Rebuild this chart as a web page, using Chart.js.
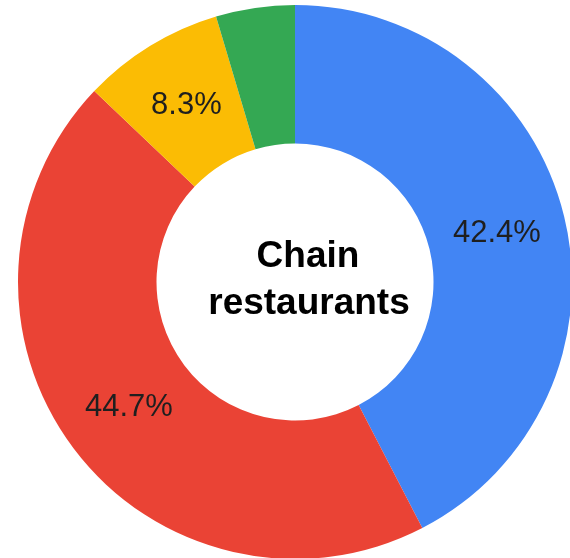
<!DOCTYPE html>
<html>
<head>
<meta charset="utf-8">
<script src="https://cdn.jsdelivr.net/npm/chart.js@4/dist/chart.umd.min.js"></script>
<style>
  html, body { margin: 0; padding: 0; background: #fff; }
  #wrap { width: 570px; height: 558px; }
</style>
</head>
<body>
<div id="wrap"><canvas id="ring" width="570" height="558"></canvas></div>
<script>
// share of each segment, clockwise from the top
const segments = ['Segment A', 'Segment B', 'Segment C', 'Segment D'];
const shares = [42.4, 44.7, 8.3, 4.6];
const sliceColors = ['#4285F4', '#EA4335', '#FBBC04', '#34A853'];
const centerLines = ['Chain', 'restaurants'];

// percentages written inside the slices (small ones are skipped)
const sliceLabels = {
  id: 'sliceLabels',
  afterDatasetsDraw(chart) {
    const ctx = chart.ctx;
    const meta = chart.getDatasetMeta(0);
    ctx.save();
    ctx.font = '31px "Liberation Sans", Arial, sans-serif';
    ctx.fillStyle = '#1f1f1f';
    ctx.textAlign = 'center';
    ctx.textBaseline = 'middle';
    meta.data.forEach((arc, i) => {
      if (shares[i] < 5) return;
      const p = arc.tooltipPosition();
      ctx.fillText(shares[i].toFixed(1) + '%', p.x, p.y + 1);
    });
    ctx.restore();
  }
};

// title in the hole of the ring
const centerText = {
  id: 'centerText',
  afterDraw(chart) {
    const ctx = chart.ctx;
    const arc = chart.getDatasetMeta(0).data[0];
    ctx.save();
    ctx.font = 'bold 37px "Liberation Sans", Arial, sans-serif';
    ctx.fillStyle = '#000';
    ctx.textAlign = 'center';
    ctx.textBaseline = 'alphabetic';
    ctx.fillText(centerLines[0], arc.x + 13, arc.y - 15);
    ctx.fillText(centerLines[1], arc.x + 14, arc.y + 32);
    ctx.restore();
  }
};

new Chart(document.getElementById('ring'), {
  type: 'doughnut',
  data: {
    labels: segments,
    datasets: [{
      data: shares,
      backgroundColor: sliceColors,
      borderWidth: 0,
      radius: 277,
      cutout: '50%'
    }]
  },
  options: {
    responsive: false,
    animation: false,
    layout: { padding: { left: 20, right: 0, top: 6, bottom: 0 } },
    plugins: {
      legend: { display: false },
      tooltip: { enabled: false }
    }
  },
  plugins: [sliceLabels, centerText]
});
</script>
</body>
</html>
